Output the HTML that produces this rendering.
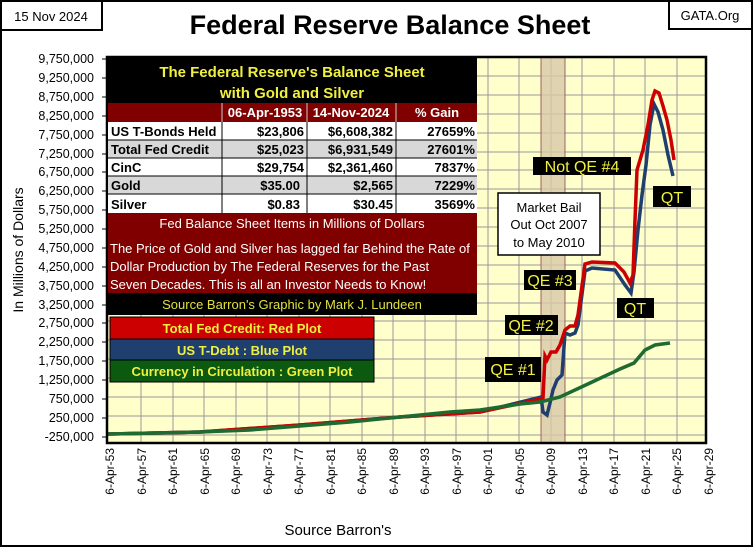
<!DOCTYPE html>
<html><head><style>
body{margin:0;background:#fff}
svg{display:block}
text{font-family:"Liberation Sans",Arial,sans-serif}
</style></head><body>
<svg width="753" height="547" viewBox="0 0 753 547" xmlns="http://www.w3.org/2000/svg">
<rect x="1" y="1" width="751" height="545" fill="#fff" stroke="#000" stroke-width="2"/>
<rect x="1" y="1" width="101" height="29" fill="#fff" stroke="#000" stroke-width="2"/>
<text x="51" y="21" font-size="13" text-anchor="middle">15 Nov 2024</text>
<rect x="669" y="1" width="83" height="28" fill="#fff" stroke="#000" stroke-width="2"/>
<text x="710" y="20" font-size="13" text-anchor="middle">GATA.Org</text>
<text x="390" y="34" font-size="27" font-weight="bold" text-anchor="middle">Federal Reserve Balance Sheet</text>

<rect x="108" y="57" width="598" height="386" fill="#ffffcc"/>
<g stroke="#999" stroke-width="1">
<line x1="108" x2="706" y1="76" y2="76"/><line x1="108" x2="706" y1="95" y2="95"/><line x1="108" x2="706" y1="114" y2="114"/><line x1="108" x2="706" y1="133" y2="133"/><line x1="108" x2="706" y1="152" y2="152"/><line x1="108" x2="706" y1="170" y2="170"/><line x1="108" x2="706" y1="189" y2="189"/><line x1="108" x2="706" y1="208" y2="208"/><line x1="108" x2="706" y1="227" y2="227"/><line x1="108" x2="706" y1="246" y2="246"/><line x1="108" x2="706" y1="265" y2="265"/><line x1="108" x2="706" y1="284" y2="284"/><line x1="108" x2="706" y1="303" y2="303"/><line x1="108" x2="706" y1="321" y2="321"/><line x1="108" x2="706" y1="340" y2="340"/><line x1="108" x2="706" y1="359" y2="359"/><line x1="108" x2="706" y1="378" y2="378"/><line x1="108" x2="706" y1="397" y2="397"/><line x1="108" x2="706" y1="416" y2="416"/><line x1="108" x2="706" y1="435" y2="435"/>
<line x1="141" x2="141" y1="57" y2="443"/><line x1="173" x2="173" y1="57" y2="443"/><line x1="204" x2="204" y1="57" y2="443"/><line x1="236" x2="236" y1="57" y2="443"/><line x1="267" x2="267" y1="57" y2="443"/><line x1="299" x2="299" y1="57" y2="443"/><line x1="330" x2="330" y1="57" y2="443"/><line x1="362" x2="362" y1="57" y2="443"/><line x1="393" x2="393" y1="57" y2="443"/><line x1="425" x2="425" y1="57" y2="443"/><line x1="456" x2="456" y1="57" y2="443"/><line x1="488" x2="488" y1="57" y2="443"/><line x1="519" x2="519" y1="57" y2="443"/><line x1="551" x2="551" y1="57" y2="443"/><line x1="582" x2="582" y1="57" y2="443"/><line x1="614" x2="614" y1="57" y2="443"/><line x1="645" x2="645" y1="57" y2="443"/><line x1="677" x2="677" y1="57" y2="443"/>
</g>
<g stroke="#000" stroke-width="1">
<line x1="102" x2="108" y1="59" y2="59"/><line x1="102" x2="108" y1="78" y2="78"/><line x1="102" x2="108" y1="97" y2="97"/><line x1="102" x2="108" y1="116" y2="116"/><line x1="102" x2="108" y1="135" y2="135"/><line x1="102" x2="108" y1="154" y2="154"/><line x1="102" x2="108" y1="172" y2="172"/><line x1="102" x2="108" y1="191" y2="191"/><line x1="102" x2="108" y1="210" y2="210"/><line x1="102" x2="108" y1="229" y2="229"/><line x1="102" x2="108" y1="248" y2="248"/><line x1="102" x2="108" y1="267" y2="267"/><line x1="102" x2="108" y1="286" y2="286"/><line x1="102" x2="108" y1="305" y2="305"/><line x1="102" x2="108" y1="323" y2="323"/><line x1="102" x2="108" y1="342" y2="342"/><line x1="102" x2="108" y1="361" y2="361"/><line x1="102" x2="108" y1="380" y2="380"/><line x1="102" x2="108" y1="399" y2="399"/><line x1="102" x2="108" y1="418" y2="418"/><line x1="102" x2="108" y1="437" y2="437"/>
</g>
<rect x="541" y="57" width="24" height="386" fill="#d8c8a8" fill-opacity="0.8" stroke="#a06060" stroke-width="1"/>

<polyline fill="none" stroke="#1f3f6f" stroke-width="3.5" points="108,434 200,432 300,425 400,417 480,412 541,397 543,412 547,415 550,403 553,390 557,380 562,375 565,333 570,335 575,333 578,325 585,271 592,268 615,270 625,285 631,293 634,272 638,230 642,195 646,165 650,125 654,104 658,112 663,130 668,155 673,176"/>
<polyline fill="none" stroke="#cc0000" stroke-width="3.5" points="108,434 200,432 300,425 400,417 480,412 541,399 543,398 545,356 547,360 551,352 556,352 560,345 565,330 570,326 575,326 578,315 585,264 592,262 615,263 624,272 630,283 633,275 635,220 637,170 640,160 643,150 648,125 652,100 655,91 659,93 663,106 667,120 671,140 674,160"/>
<polyline fill="none" stroke="#1d6b30" stroke-width="3.5" points="108,434 200,432 250,430 300,426 350,422 400,417 450,412 480,410 520,404 540,402 560,397 590,383 620,369 634,363 645,350 655,345 670,343"/>

<rect x="107" y="57" width="599" height="386" fill="none" stroke="#000" stroke-width="2.5"/>

<g font-size="12.5" text-anchor="end">
<text x="94" y="63">9,750,000</text><text x="94" y="82">9,250,000</text><text x="94" y="101">8,750,000</text><text x="94" y="120">8,250,000</text><text x="94" y="139">7,750,000</text><text x="94" y="158">7,250,000</text><text x="94" y="176">6,750,000</text><text x="94" y="195">6,250,000</text><text x="94" y="214">5,750,000</text><text x="94" y="233">5,250,000</text><text x="94" y="252">4,750,000</text><text x="94" y="271">4,250,000</text><text x="94" y="290">3,750,000</text><text x="94" y="309">3,250,000</text><text x="94" y="327">2,750,000</text><text x="94" y="346">2,250,000</text><text x="94" y="365">1,750,000</text><text x="94" y="384">1,250,000</text><text x="94" y="403">750,000</text><text x="94" y="422">250,000</text><text x="94" y="441">-250,000</text>
</g>
<text transform="translate(23,250) rotate(-90)" font-size="14" text-anchor="middle">In Millions of Dollars</text>
<g font-size="12" text-anchor="end">
<text transform="translate(114,448) rotate(-90)">6-Apr-53</text><text transform="translate(146,448) rotate(-90)">6-Apr-57</text><text transform="translate(177,448) rotate(-90)">6-Apr-61</text><text transform="translate(209,448) rotate(-90)">6-Apr-65</text><text transform="translate(240,448) rotate(-90)">6-Apr-69</text><text transform="translate(272,448) rotate(-90)">6-Apr-73</text><text transform="translate(303,448) rotate(-90)">6-Apr-77</text><text transform="translate(335,448) rotate(-90)">6-Apr-81</text><text transform="translate(366,448) rotate(-90)">6-Apr-85</text><text transform="translate(398,448) rotate(-90)">6-Apr-89</text><text transform="translate(429,448) rotate(-90)">6-Apr-93</text><text transform="translate(461,448) rotate(-90)">6-Apr-97</text><text transform="translate(492,448) rotate(-90)">6-Apr-01</text><text transform="translate(524,448) rotate(-90)">6-Apr-05</text><text transform="translate(555,448) rotate(-90)">6-Apr-09</text><text transform="translate(587,448) rotate(-90)">6-Apr-13</text><text transform="translate(618,448) rotate(-90)">6-Apr-17</text><text transform="translate(650,448) rotate(-90)">6-Apr-21</text><text transform="translate(681,448) rotate(-90)">6-Apr-25</text><text transform="translate(713,448) rotate(-90)">6-Apr-29</text>
</g>
<text x="338" y="535" font-size="15" text-anchor="middle">Source Barron's</text>

<g font-weight="bold">
<rect x="108" y="58" width="369" height="45" fill="#000"/>
<text x="292" y="77" font-size="15" fill="#f0f040" text-anchor="middle">The Federal Reserve's Balance Sheet</text>
<text x="292" y="98" font-size="15" fill="#f0f040" text-anchor="middle">with Gold and Silver</text>
<rect x="108" y="103" width="369" height="19" fill="#800000"/>
<g fill="#fff" font-size="13" text-anchor="middle">
<text x="265" y="117">06-Apr-1953</text><text x="351" y="117">14-Nov-2024</text><text x="437" y="117">% Gain</text></g>
<line x1="222" x2="222" y1="103" y2="122" stroke="#ccc"/><line x1="307" x2="307" y1="103" y2="122" stroke="#ccc"/><line x1="396" x2="396" y1="103" y2="122" stroke="#ccc"/>
<rect x="108" y="122" width="369" height="18" fill="#fff"/>
<rect x="108" y="140" width="369" height="18" fill="#d8d8d8"/>
<rect x="108" y="158" width="369" height="18" fill="#fff"/>
<rect x="108" y="176" width="369" height="18" fill="#d8d8d8"/>
<rect x="108" y="194" width="369" height="19" fill="#fff"/>
<g stroke="#000" stroke-width="1">
<line x1="108" x2="477" y1="140" y2="140"/><line x1="108" x2="477" y1="158" y2="158"/><line x1="108" x2="477" y1="176" y2="176"/><line x1="108" x2="477" y1="194" y2="194"/>
<line x1="222" x2="222" y1="122" y2="213"/><line x1="307" x2="307" y1="122" y2="213"/><line x1="396" x2="396" y1="122" y2="213"/>
</g>
<g font-size="13" fill="#000">
<text x="111" y="136">US T-Bonds Held</text><text x="111" y="154">Total Fed Credit</text><text x="111" y="172">CinC</text><text x="111" y="190">Gold</text><text x="111" y="209">Silver</text>
<g text-anchor="end">
<text x="304" y="136">$23,806</text><text x="393" y="136">$6,608,382</text><text x="475" y="136">27659%</text>
<text x="304" y="154">$25,023</text><text x="393" y="154">$6,931,549</text><text x="475" y="154">27601%</text>
<text x="304" y="172">$29,754</text><text x="393" y="172">$2,361,460</text><text x="475" y="172">7837%</text>
<text x="300" y="190">$35.00</text><text x="393" y="190">$2,565</text><text x="475" y="190">7229%</text>
<text x="300" y="209">$0.83</text><text x="393" y="209">$30.45</text><text x="475" y="209">3569%</text>
</g></g>
</g>
<rect x="108" y="213" width="369" height="80" fill="#800000"/>
<g fill="#fff" font-size="13">
<text x="292" y="228" text-anchor="middle">Fed Balance Sheet Items in Millions of Dollars</text>
<text x="110" y="253">The Price of Gold and Silver has lagged far Behind the Rate of</text>
<text x="110" y="271">Dollar Production by The Federal Reserves for the Past</text>
<text x="110" y="289">Seven Decades.  This is all an Investor Needs to Know!</text>
</g>
<rect x="108" y="293" width="369" height="22" fill="#000"/>
<text x="292" y="309" font-size="13" fill="#e0e040" text-anchor="middle">Source Barron's   Graphic by Mark J. Lundeen</text>
<g font-weight="bold" font-size="13" fill="#f0f040" text-anchor="middle">
<rect x="110" y="317" width="264" height="22" fill="#cc0000" stroke="#000"/>
<text x="242" y="333">Total Fed Credit: Red Plot</text>
<rect x="110" y="339" width="264" height="21" fill="#1f3f6f" stroke="#000"/>
<text x="242" y="355">US T-Debt : Blue Plot</text>
<rect x="110" y="360" width="264" height="22" fill="#0b5a10" stroke="#000"/>
<text x="242" y="376">Currency in Circulation : Green Plot</text>
</g>

<rect x="498" y="193" width="102" height="62" fill="#fff" stroke="#000" stroke-width="1.5"/>
<g font-size="13" text-anchor="middle"><text x="549" y="212">Market Bail</text><text x="549" y="229">Out Oct 2007</text><text x="549" y="247">to May 2010</text></g>
<g font-size="16" fill="#f0f040">
<rect x="533" y="157" width="98" height="18" fill="#000"/><text x="582" y="172" text-anchor="middle">Not QE #4</text>
<rect x="653" y="186" width="38" height="21" fill="#000"/><text x="672" y="203" text-anchor="middle">QT</text>
<rect x="524" y="270" width="52" height="20" fill="#000"/><text x="550" y="286" text-anchor="middle">QE #3</text>
<rect x="617" y="298" width="37" height="20" fill="#000"/><text x="635" y="314" text-anchor="middle">QT</text>
<rect x="505" y="315" width="53" height="20" fill="#000"/><text x="531" y="331" text-anchor="middle">QE #2</text>
<rect x="485" y="357" width="56" height="25" fill="#000"/><text x="513" y="375" text-anchor="middle">QE #1</text>
</g>
</svg>
</body></html>
